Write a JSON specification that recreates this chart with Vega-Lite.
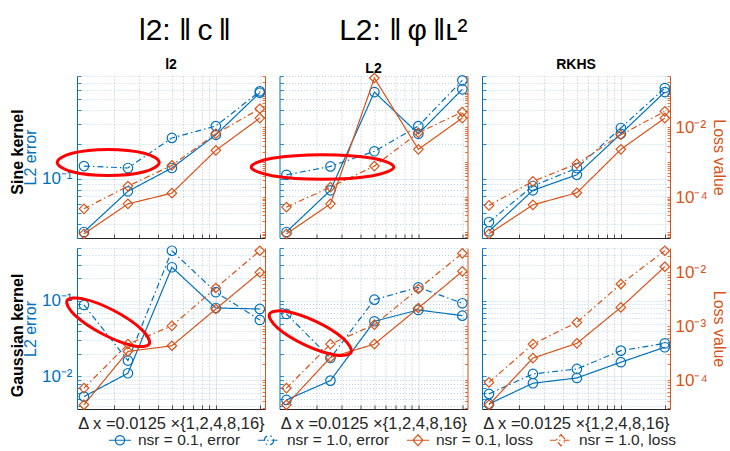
{
"$schema":"https://vega.github.io/schema/vega-lite/v6.json",
"padding":{"left":10,"top":16,"right":2,"bottom":2},
"title":{"text":"l2: ‖\u2009c\u2009‖\u00a0\u00a0\u00a0\u00a0\u00a0\u00a0\u00a0\u00a0\u00a0\u00a0\u00a0\u00a0\u00a0L2: ‖\u2009φ\u2009‖ʟ²","anchor":"start","frame":"group","fontSize":30,"fontWeight":"normal","font":"Liberation Sans","color":"#000000","dx":62,"offset":12},
"datasets":{
"d":[
{"k":"S","m":"l2","s":"nsr = 0.1, error","dx":0.0125,"v":0.0339},{"k":"S","m":"l2","s":"nsr = 0.1, error","dx":0.025,"v":0.0773},{"k":"S","m":"l2","s":"nsr = 0.1, error","dx":0.05,"v":0.124},{"k":"S","m":"l2","s":"nsr = 0.1, error","dx":0.1,"v":0.243},{"k":"S","m":"l2","s":"nsr = 0.1, error","dx":0.2,"v":0.57},
{"k":"S","m":"l2","s":"nsr = 1.0, error","dx":0.0125,"v":0.129},{"k":"S","m":"l2","s":"nsr = 1.0, error","dx":0.025,"v":0.124},{"k":"S","m":"l2","s":"nsr = 1.0, error","dx":0.05,"v":0.228},{"k":"S","m":"l2","s":"nsr = 1.0, error","dx":0.1,"v":0.29},{"k":"S","m":"l2","s":"nsr = 1.0, error","dx":0.2,"v":0.586},
{"k":"S","m":"l2","s":"nsr = 0.1, loss","dx":0.0125,"v":0.0000088},{"k":"S","m":"l2","s":"nsr = 0.1, loss","dx":0.025,"v":0.000064},{"k":"S","m":"l2","s":"nsr = 0.1, loss","dx":0.05,"v":0.00013},{"k":"S","m":"l2","s":"nsr = 0.1, loss","dx":0.1,"v":0.0022},{"k":"S","m":"l2","s":"nsr = 0.1, loss","dx":0.2,"v":0.0186},
{"k":"S","m":"l2","s":"nsr = 1.0, loss","dx":0.0125,"v":0.0000461},{"k":"S","m":"l2","s":"nsr = 1.0, loss","dx":0.025,"v":0.000207},{"k":"S","m":"l2","s":"nsr = 1.0, loss","dx":0.05,"v":0.000815},{"k":"S","m":"l2","s":"nsr = 1.0, loss","dx":0.1,"v":0.00659},{"k":"S","m":"l2","s":"nsr = 1.0, loss","dx":0.2,"v":0.0344},
{"k":"S","m":"L2","s":"nsr = 0.1, error","dx":0.0125,"v":0.0339},{"k":"S","m":"L2","s":"nsr = 0.1, error","dx":0.025,"v":0.0789},{"k":"S","m":"L2","s":"nsr = 0.1, error","dx":0.05,"v":0.578},{"k":"S","m":"L2","s":"nsr = 0.1, error","dx":0.1,"v":0.248},{"k":"S","m":"L2","s":"nsr = 0.1, error","dx":0.2,"v":0.611},
{"k":"S","m":"L2","s":"nsr = 1.0, error","dx":0.0125,"v":0.108},{"k":"S","m":"L2","s":"nsr = 1.0, error","dx":0.025,"v":0.128},{"k":"S","m":"L2","s":"nsr = 1.0, error","dx":0.05,"v":0.174},{"k":"S","m":"L2","s":"nsr = 1.0, error","dx":0.1,"v":0.29},{"k":"S","m":"L2","s":"nsr = 1.0, error","dx":0.2,"v":0.733},
{"k":"S","m":"L2","s":"nsr = 0.1, loss","dx":0.0125,"v":0.0000088},{"k":"S","m":"L2","s":"nsr = 0.1, loss","dx":0.025,"v":0.000064},{"k":"S","m":"L2","s":"nsr = 0.1, loss","dx":0.05,"v":0.263},{"k":"S","m":"L2","s":"nsr = 0.1, loss","dx":0.1,"v":0.00235},{"k":"S","m":"L2","s":"nsr = 0.1, loss","dx":0.2,"v":0.0186},
{"k":"S","m":"L2","s":"nsr = 1.0, loss","dx":0.0125,"v":0.0000516},{"k":"S","m":"L2","s":"nsr = 1.0, loss","dx":0.025,"v":0.000194},{"k":"S","m":"L2","s":"nsr = 1.0, loss","dx":0.05,"v":0.000778},{"k":"S","m":"L2","s":"nsr = 1.0, loss","dx":0.1,"v":0.00705},{"k":"S","m":"L2","s":"nsr = 1.0, loss","dx":0.2,"v":0.0277},
{"k":"S","m":"RKHS","s":"nsr = 0.1, error","dx":0.0125,"v":0.0344},{"k":"S","m":"RKHS","s":"nsr = 0.1, error","dx":0.025,"v":0.0789},{"k":"S","m":"RKHS","s":"nsr = 0.1, error","dx":0.05,"v":0.108},{"k":"S","m":"RKHS","s":"nsr = 0.1, error","dx":0.1,"v":0.248},{"k":"S","m":"RKHS","s":"nsr = 0.1, error","dx":0.2,"v":0.578},
{"k":"S","m":"RKHS","s":"nsr = 1.0, error","dx":0.0125,"v":0.0415},{"k":"S","m":"RKHS","s":"nsr = 1.0, error","dx":0.025,"v":0.0861},{"k":"S","m":"RKHS","s":"nsr = 1.0, error","dx":0.05,"v":0.124},{"k":"S","m":"RKHS","s":"nsr = 1.0, error","dx":0.1,"v":0.279},{"k":"S","m":"RKHS","s":"nsr = 1.0, error","dx":0.2,"v":0.627},
{"k":"S","m":"RKHS","s":"nsr = 0.1, loss","dx":0.0125,"v":0.0000088},{"k":"S","m":"RKHS","s":"nsr = 0.1, loss","dx":0.025,"v":0.00006},{"k":"S","m":"RKHS","s":"nsr = 0.1, loss","dx":0.05,"v":0.000133},{"k":"S","m":"RKHS","s":"nsr = 0.1, loss","dx":0.1,"v":0.00235},{"k":"S","m":"RKHS","s":"nsr = 0.1, loss","dx":0.2,"v":0.0186},
{"k":"S","m":"RKHS","s":"nsr = 1.0, loss","dx":0.0125,"v":0.0000577},{"k":"S","m":"RKHS","s":"nsr = 1.0, loss","dx":0.025,"v":0.000283},{"k":"S","m":"RKHS","s":"nsr = 1.0, loss","dx":0.05,"v":0.000906},{"k":"S","m":"RKHS","s":"nsr = 1.0, loss","dx":0.1,"v":0.00617},{"k":"S","m":"RKHS","s":"nsr = 1.0, loss","dx":0.2,"v":0.029},
{"k":"G","m":"l2","s":"nsr = 0.1, error","dx":0.0125,"v":0.0054},{"k":"G","m":"l2","s":"nsr = 0.1, error","dx":0.025,"v":0.011},{"k":"G","m":"l2","s":"nsr = 0.1, error","dx":0.05,"v":0.278},{"k":"G","m":"l2","s":"nsr = 0.1, error","dx":0.1,"v":0.0804},{"k":"G","m":"l2","s":"nsr = 0.1, error","dx":0.2,"v":0.078},
{"k":"G","m":"l2","s":"nsr = 1.0, error","dx":0.0125,"v":0.0881},{"k":"G","m":"l2","s":"nsr = 1.0, error","dx":0.025,"v":0.0162},{"k":"G","m":"l2","s":"nsr = 1.0, error","dx":0.05,"v":0.46},{"k":"G","m":"l2","s":"nsr = 1.0, error","dx":0.1,"v":0.13},{"k":"G","m":"l2","s":"nsr = 1.0, error","dx":0.2,"v":0.0558},
{"k":"G","m":"l2","s":"nsr = 0.1, loss","dx":0.0125,"v":0.0000347},{"k":"G","m":"l2","s":"nsr = 0.1, loss","dx":0.025,"v":0.000339},{"k":"G","m":"l2","s":"nsr = 0.1, loss","dx":0.05,"v":0.000431},{"k":"G","m":"l2","s":"nsr = 0.1, loss","dx":0.1,"v":0.00207},{"k":"G","m":"l2","s":"nsr = 0.1, loss","dx":0.2,"v":0.0099},
{"k":"G","m":"l2","s":"nsr = 1.0, loss","dx":0.0125,"v":0.0000708},{"k":"G","m":"l2","s":"nsr = 1.0, loss","dx":0.025,"v":0.000463},{"k":"G","m":"l2","s":"nsr = 1.0, loss","dx":0.05,"v":0.00101},{"k":"G","m":"l2","s":"nsr = 1.0, loss","dx":0.1,"v":0.00507},{"k":"G","m":"l2","s":"nsr = 1.0, loss","dx":0.2,"v":0.0249},
{"k":"G","m":"L2","s":"nsr = 0.1, error","dx":0.0125,"v":0.00488},{"k":"G","m":"L2","s":"nsr = 0.1, error","dx":0.025,"v":0.00879},{"k":"G","m":"L2","s":"nsr = 0.1, error","dx":0.05,"v":0.0536},{"k":"G","m":"L2","s":"nsr = 0.1, error","dx":0.1,"v":0.0757},{"k":"G","m":"L2","s":"nsr = 0.1, error","dx":0.2,"v":0.0636},
{"k":"G","m":"L2","s":"nsr = 1.0, error","dx":0.0125,"v":0.067},{"k":"G","m":"L2","s":"nsr = 1.0, error","dx":0.025,"v":0.0175},{"k":"G","m":"L2","s":"nsr = 1.0, error","dx":0.05,"v":0.1035},{"k":"G","m":"L2","s":"nsr = 1.0, error","dx":0.1,"v":0.151},{"k":"G","m":"L2","s":"nsr = 1.0, error","dx":0.2,"v":0.0929},
{"k":"G","m":"L2","s":"nsr = 0.1, loss","dx":0.0125,"v":0.0000347},{"k":"G","m":"L2","s":"nsr = 0.1, loss","dx":0.025,"v":0.000262},{"k":"G","m":"L2","s":"nsr = 0.1, loss","dx":0.05,"v":0.000463},{"k":"G","m":"L2","s":"nsr = 0.1, loss","dx":0.1,"v":0.00216},{"k":"G","m":"L2","s":"nsr = 0.1, loss","dx":0.2,"v":0.01035},
{"k":"G","m":"L2","s":"nsr = 1.0, loss","dx":0.0125,"v":0.0000708},{"k":"G","m":"L2","s":"nsr = 1.0, loss","dx":0.025,"v":0.000463},{"k":"G","m":"L2","s":"nsr = 1.0, loss","dx":0.05,"v":0.00106},{"k":"G","m":"L2","s":"nsr = 1.0, loss","dx":0.1,"v":0.00486},{"k":"G","m":"L2","s":"nsr = 1.0, loss","dx":0.2,"v":0.0223},
{"k":"G","m":"RKHS","s":"nsr = 0.1, error","dx":0.0125,"v":0.00432},{"k":"G","m":"RKHS","s":"nsr = 0.1, error","dx":0.025,"v":0.00811},{"k":"G","m":"RKHS","s":"nsr = 0.1, error","dx":0.05,"v":0.00953},{"k":"G","m":"RKHS","s":"nsr = 0.1, error","dx":0.1,"v":0.0154},{"k":"G","m":"RKHS","s":"nsr = 0.1, error","dx":0.2,"v":0.0243},
{"k":"G","m":"RKHS","s":"nsr = 1.0, error","dx":0.0125,"v":0.00586},{"k":"G","m":"RKHS","s":"nsr = 1.0, error","dx":0.025,"v":0.01077},{"k":"G","m":"RKHS","s":"nsr = 1.0, error","dx":0.05,"v":0.01254},{"k":"G","m":"RKHS","s":"nsr = 1.0, error","dx":0.1,"v":0.0219},{"k":"G","m":"RKHS","s":"nsr = 1.0, error","dx":0.2,"v":0.0274},
{"k":"G","m":"RKHS","s":"nsr = 0.1, loss","dx":0.0125,"v":0.0000347},{"k":"G","m":"RKHS","s":"nsr = 0.1, loss","dx":0.025,"v":0.000255},{"k":"G","m":"RKHS","s":"nsr = 0.1, loss","dx":0.05,"v":0.000478},{"k":"G","m":"RKHS","s":"nsr = 0.1, loss","dx":0.1,"v":0.00222},{"k":"G","m":"RKHS","s":"nsr = 0.1, loss","dx":0.2,"v":0.01259},
{"k":"G","m":"RKHS","s":"nsr = 1.0, loss","dx":0.0125,"v":0.0000902},{"k":"G","m":"RKHS","s":"nsr = 1.0, loss","dx":0.025,"v":0.000463},{"k":"G","m":"RKHS","s":"nsr = 1.0, loss","dx":0.05,"v":0.00117},{"k":"G","m":"RKHS","s":"nsr = 1.0, loss","dx":0.1,"v":0.00601},{"k":"G","m":"RKHS","s":"nsr = 1.0, loss","dx":0.2,"v":0.0249}
],
"ell":[
{"k":"S","m":"l2","i":0,"dx":0.04094,"v":0.1385},{"k":"S","m":"l2","i":1,"dx":0.03234,"v":0.167},{"k":"S","m":"l2","i":2,"dx":0.018316,"v":0.1804},{"k":"S","m":"l2","i":3,"dx":0.010374,"v":0.167},{"k":"S","m":"l2","i":4,"dx":0.008197,"v":0.1385},{"k":"S","m":"l2","i":5,"dx":0.010374,"v":0.115},{"k":"S","m":"l2","i":6,"dx":0.018316,"v":0.1065},{"k":"S","m":"l2","i":7,"dx":0.03234,"v":0.115},
{"k":"S","m":"L2","i":0,"dx":0.0679,"v":0.1265},{"k":"S","m":"L2","i":1,"dx":0.04885,"v":0.1509},{"k":"S","m":"L2","i":2,"dx":0.02206,"v":0.1623},{"k":"S","m":"L2","i":3,"dx":0.009963,"v":0.1509},{"k":"S","m":"L2","i":4,"dx":0.007169,"v":0.1265},{"k":"S","m":"L2","i":5,"dx":0.009963,"v":0.106},{"k":"S","m":"L2","i":6,"dx":0.02206,"v":0.0986},{"k":"S","m":"L2","i":7,"dx":0.04885,"v":0.106},
{"k":"G","m":"l2","i":0,"dx":0.035054,"v":0.02694},{"k":"G","m":"l2","i":1,"dx":0.027097,"v":0.02549},{"k":"G","m":"l2","i":2,"dx":0.016652,"v":0.03664},{"k":"G","m":"l2","i":3,"dx":0.010822,"v":0.06464},{"k":"G","m":"l2","i":4,"dx":0.009571,"v":0.10046},{"k":"G","m":"l2","i":5,"dx":0.012381,"v":0.10617},{"k":"G","m":"l2","i":6,"dx":0.020148,"v":0.07385},{"k":"G","m":"l2","i":7,"dx":0.031004,"v":0.04184},
{"k":"G","m":"L2","i":0,"dx":0.034654,"v":0.02084},{"k":"G","m":"L2","i":1,"dx":0.026986,"v":0.01919},{"k":"G","m":"L2","i":2,"dx":0.016687,"v":0.02608},{"k":"G","m":"L2","i":3,"dx":0.010856,"v":0.04375},{"k":"G","m":"L2","i":4,"dx":0.00956,"v":0.06684},{"k":"G","m":"L2","i":5,"dx":0.012276,"v":0.07261},{"k":"G","m":"L2","i":6,"dx":0.019854,"v":0.05341},{"k":"G","m":"L2","i":7,"dx":0.030518,"v":0.03185}
]
},
"spacing":-7,
"vconcat":[
{"hconcat":[
{"width":188,"height":162,"title":{"text":"l2"},
"layer":[
{"data":{"name":"d"},"transform":[{"filter":"datum.k=='S'&&datum.m=='l2'&&indexof(datum.s,'error')>=0"}],
"encoding":{
"x":{"field":"dx","type":"quantitative","scale":{"type":"log","domain":[0.0112,0.217],"nice":false},"axis":{"values":[0.02,0.03,0.04,0.05,0.06,0.07,0.08,0.09,0.1,0.2],"labels":false,"title":null,"grid":true,"gridColor":"#262626","gridOpacity":{"condition":{"test":"datum.value==0.1","value":0.15},"value":0.35},"gridDash":{"condition":{"test":"datum.value==0.1","value":[]},"value":[1,2]}}},
"y":{"field":"v","type":"quantitative","scale":{"type":"log","domain":[0.03,0.8],"nice":false},"axis":{"orient":"left","values":[0.03,0.04,0.05,0.06,0.07,0.08,0.09,0.1,0.2,0.3,0.4,0.5,0.6,0.7,0.8],"labelExpr":"datum.value==0.1?'10⁻¹':''","title":"L2 error","grid":true,"gridColor":"#0072BD","gridOpacity":{"condition":{"test":"datum.value==0.1","value":0.15},"value":0.35},"gridDash":{"condition":{"test":"datum.value==0.1","value":[]},"value":[1,2]}}},
"color":{"field":"s","type":"nominal","scale":{"domain":["nsr = 0.1, error","nsr = 1.0, error","nsr = 0.1, loss","nsr = 1.0, loss"],"range":["#0072BD","#0072BD","#D95319","#D95319"]},"legend":{"title":null}}},
"layer":[
{"mark":{"type":"line","strokeWidth":1.2},"encoding":{"strokeDash":{"field":"s","type":"nominal","scale":{"domain":["nsr = 0.1, error","nsr = 1.0, error","nsr = 0.1, loss","nsr = 1.0, loss"],"range":[[1,0],[6,3,1.5,3],[1,0],[6,3,1.5,3]]},"legend":{"title":null}}}},
{"mark":{"type":"point","filled":false,"size":90,"strokeWidth":1.2,"opacity":1},"encoding":{"shape":{"condition":{"test":"indexof(datum.s,'error')>=0","value":"circle"},"value":"diamond"}}},
{"transform":[{"filter":"false"}],"mark":{"type":"point","filled":false,"strokeWidth":1.2},"encoding":{"shape":{"field":"s","type":"nominal","scale":{"domain":["nsr = 0.1, error","nsr = 1.0, error","nsr = 0.1, loss","nsr = 1.0, loss"],"range":["M-1,0L1,0M0.42,0A0.42,0.42,0,1,1,-0.42,0A0.42,0.42,0,1,1,0.42,0","M-1,0L1,0M0.42,0A0.42,0.42,0,1,1,-0.42,0A0.42,0.42,0,1,1,0.42,0","M-1,0L1,0M0,-0.5L0.45,0L0,0.5L-0.45,0Z","M-1,0L1,0M0,-0.5L0.45,0L0,0.5L-0.45,0Z"]},"legend":{"title":null}}}}
]},
{"data":{"name":"d"},"transform":[{"filter":"datum.k=='S'&&datum.m=='l2'&&indexof(datum.s,'loss')>=0"}],
"encoding":{
"x":{"field":"dx","type":"quantitative","scale":{"type":"log","domain":[0.0112,0.217],"nice":false},"axis":{"values":[0.02,0.03,0.04,0.05,0.06,0.07,0.08,0.09,0.1,0.2],"labels":false,"title":null,"grid":true,"gridColor":"#262626","gridOpacity":{"condition":{"test":"datum.value==0.1","value":0.15},"value":0.35},"gridDash":{"condition":{"test":"datum.value==0.1","value":[]},"value":[1,2]}}},
"y":{"field":"v","type":"quantitative","scale":{"type":"log","domain":[0.0000067,0.3],"nice":false},"axis":{"orient":"right","values":[0.000007,0.000008,0.000009,0.00001,0.00002,0.00003,0.00004,0.00005,0.00006,0.00007,0.00008,0.00009,0.0001,0.0002,0.0003,0.0004,0.0005,0.0006,0.0007,0.0008,0.0009,0.001,0.002,0.003,0.004,0.005,0.006,0.007,0.008,0.009,0.01,0.02,0.03,0.04,0.05,0.06,0.07,0.08,0.09,0.1,0.2,0.3],"labels":false,"title":null,"grid":false}},
"color":{"field":"s","type":"nominal","scale":{"domain":["nsr = 0.1, error","nsr = 1.0, error","nsr = 0.1, loss","nsr = 1.0, loss"],"range":["#0072BD","#0072BD","#D95319","#D95319"]},"legend":{"title":null}}},
"layer":[
{"mark":{"type":"line","strokeWidth":1.2},"encoding":{"strokeDash":{"field":"s","type":"nominal","scale":{"domain":["nsr = 0.1, error","nsr = 1.0, error","nsr = 0.1, loss","nsr = 1.0, loss"],"range":[[1,0],[6,3,1.5,3],[1,0],[6,3,1.5,3]]},"legend":{"title":null}}}},
{"mark":{"type":"point","filled":false,"size":90,"strokeWidth":1.2,"opacity":1},"encoding":{"shape":{"condition":{"test":"indexof(datum.s,'error')>=0","value":"circle"},"value":"diamond"}}}
]},
{"data":{"name":"ell"},"transform":[{"filter":"datum.k=='S'&&datum.m=='l2'"}],
"mark":{"type":"line","interpolate":"cardinal-closed","color":"#FF0000","strokeWidth":3},
"encoding":{
"x":{"field":"dx","type":"quantitative","scale":{"type":"log","domain":[0.0112,0.217],"nice":false},"axis":{"values":[0.02,0.03,0.04,0.05,0.06,0.07,0.08,0.09,0.1,0.2],"labels":false,"title":null,"grid":true,"gridColor":"#262626","gridOpacity":{"condition":{"test":"datum.value==0.1","value":0.15},"value":0.35},"gridDash":{"condition":{"test":"datum.value==0.1","value":[]},"value":[1,2]}}},
"y":{"field":"v","type":"quantitative","scale":{"type":"log","domain":[0.03,0.8],"nice":false},"axis":null},
"order":{"field":"i","type":"quantitative"}}}
],
"resolve":{"scale":{"y":"independent"}}},

{"width":188,"height":162,"title":{"text":"L2"},
"layer":[
{"data":{"name":"d"},"transform":[{"filter":"datum.k=='S'&&datum.m=='L2'&&indexof(datum.s,'error')>=0"}],
"encoding":{
"x":{"field":"dx","type":"quantitative","scale":{"type":"log","domain":[0.0112,0.217],"nice":false},"axis":{"values":[0.02,0.03,0.04,0.05,0.06,0.07,0.08,0.09,0.1,0.2],"labels":false,"title":null,"grid":true,"gridColor":"#262626","gridOpacity":{"condition":{"test":"datum.value==0.1","value":0.15},"value":0.35},"gridDash":{"condition":{"test":"datum.value==0.1","value":[]},"value":[1,2]}}},
"y":{"field":"v","type":"quantitative","scale":{"type":"log","domain":[0.03,0.8],"nice":false},"axis":{"orient":"left","values":[0.03,0.04,0.05,0.06,0.07,0.08,0.09,0.1,0.2,0.3,0.4,0.5,0.6,0.7,0.8],"labels":false,"title":null,"grid":true,"gridColor":"#0072BD","gridOpacity":{"condition":{"test":"datum.value==0.1","value":0.15},"value":0.35},"gridDash":{"condition":{"test":"datum.value==0.1","value":[]},"value":[1,2]}}},
"color":{"field":"s","type":"nominal","scale":{"domain":["nsr = 0.1, error","nsr = 1.0, error","nsr = 0.1, loss","nsr = 1.0, loss"],"range":["#0072BD","#0072BD","#D95319","#D95319"]},"legend":{"title":null}}},
"layer":[
{"mark":{"type":"line","strokeWidth":1.2},"encoding":{"strokeDash":{"field":"s","type":"nominal","scale":{"domain":["nsr = 0.1, error","nsr = 1.0, error","nsr = 0.1, loss","nsr = 1.0, loss"],"range":[[1,0],[6,3,1.5,3],[1,0],[6,3,1.5,3]]},"legend":{"title":null}}}},
{"mark":{"type":"point","filled":false,"size":90,"strokeWidth":1.2,"opacity":1},"encoding":{"shape":{"condition":{"test":"indexof(datum.s,'error')>=0","value":"circle"},"value":"diamond"}}}
]},
{"data":{"name":"d"},"transform":[{"filter":"datum.k=='S'&&datum.m=='L2'&&indexof(datum.s,'loss')>=0"}],
"encoding":{
"x":{"field":"dx","type":"quantitative","scale":{"type":"log","domain":[0.0112,0.217],"nice":false},"axis":{"values":[0.02,0.03,0.04,0.05,0.06,0.07,0.08,0.09,0.1,0.2],"labels":false,"title":null,"grid":true,"gridColor":"#262626","gridOpacity":{"condition":{"test":"datum.value==0.1","value":0.15},"value":0.35},"gridDash":{"condition":{"test":"datum.value==0.1","value":[]},"value":[1,2]}}},
"y":{"field":"v","type":"quantitative","scale":{"type":"log","domain":[0.0000067,0.3],"nice":false},"axis":{"orient":"right","values":[0.000007,0.000008,0.000009,0.00001,0.00002,0.00003,0.00004,0.00005,0.00006,0.00007,0.00008,0.00009,0.0001,0.0002,0.0003,0.0004,0.0005,0.0006,0.0007,0.0008,0.0009,0.001,0.002,0.003,0.004,0.005,0.006,0.007,0.008,0.009,0.01,0.02,0.03,0.04,0.05,0.06,0.07,0.08,0.09,0.1,0.2,0.3],"labels":false,"title":null,"grid":false}},
"color":{"field":"s","type":"nominal","scale":{"domain":["nsr = 0.1, error","nsr = 1.0, error","nsr = 0.1, loss","nsr = 1.0, loss"],"range":["#0072BD","#0072BD","#D95319","#D95319"]},"legend":{"title":null}}},
"layer":[
{"mark":{"type":"line","strokeWidth":1.2},"encoding":{"strokeDash":{"field":"s","type":"nominal","scale":{"domain":["nsr = 0.1, error","nsr = 1.0, error","nsr = 0.1, loss","nsr = 1.0, loss"],"range":[[1,0],[6,3,1.5,3],[1,0],[6,3,1.5,3]]},"legend":{"title":null}}}},
{"mark":{"type":"point","filled":false,"size":90,"strokeWidth":1.2,"opacity":1},"encoding":{"shape":{"condition":{"test":"indexof(datum.s,'error')>=0","value":"circle"},"value":"diamond"}}}
]},
{"data":{"name":"ell"},"transform":[{"filter":"datum.k=='S'&&datum.m=='L2'"}],
"mark":{"type":"line","interpolate":"cardinal-closed","color":"#FF0000","strokeWidth":3},
"encoding":{
"x":{"field":"dx","type":"quantitative","scale":{"type":"log","domain":[0.0112,0.217],"nice":false},"axis":{"values":[0.02,0.03,0.04,0.05,0.06,0.07,0.08,0.09,0.1,0.2],"labels":false,"title":null,"grid":true,"gridColor":"#262626","gridOpacity":{"condition":{"test":"datum.value==0.1","value":0.15},"value":0.35},"gridDash":{"condition":{"test":"datum.value==0.1","value":[]},"value":[1,2]}}},
"y":{"field":"v","type":"quantitative","scale":{"type":"log","domain":[0.03,0.8],"nice":false},"axis":null},
"order":{"field":"i","type":"quantitative"}}}
],
"resolve":{"scale":{"y":"independent"}}},

{"width":188,"height":162,"title":{"text":"RKHS"},
"layer":[
{"data":{"name":"d"},"transform":[{"filter":"datum.k=='S'&&datum.m=='RKHS'&&indexof(datum.s,'error')>=0"}],
"encoding":{
"x":{"field":"dx","type":"quantitative","scale":{"type":"log","domain":[0.0112,0.217],"nice":false},"axis":{"values":[0.02,0.03,0.04,0.05,0.06,0.07,0.08,0.09,0.1,0.2],"labels":false,"title":null,"grid":true,"gridColor":"#262626","gridOpacity":{"condition":{"test":"datum.value==0.1","value":0.15},"value":0.35},"gridDash":{"condition":{"test":"datum.value==0.1","value":[]},"value":[1,2]}}},
"y":{"field":"v","type":"quantitative","scale":{"type":"log","domain":[0.03,0.8],"nice":false},"axis":{"orient":"left","values":[0.03,0.04,0.05,0.06,0.07,0.08,0.09,0.1,0.2,0.3,0.4,0.5,0.6,0.7,0.8],"labels":false,"title":null,"grid":true,"gridColor":"#0072BD","gridOpacity":{"condition":{"test":"datum.value==0.1","value":0.15},"value":0.35},"gridDash":{"condition":{"test":"datum.value==0.1","value":[]},"value":[1,2]}}},
"color":{"field":"s","type":"nominal","scale":{"domain":["nsr = 0.1, error","nsr = 1.0, error","nsr = 0.1, loss","nsr = 1.0, loss"],"range":["#0072BD","#0072BD","#D95319","#D95319"]},"legend":{"title":null}}},
"layer":[
{"mark":{"type":"line","strokeWidth":1.2},"encoding":{"strokeDash":{"field":"s","type":"nominal","scale":{"domain":["nsr = 0.1, error","nsr = 1.0, error","nsr = 0.1, loss","nsr = 1.0, loss"],"range":[[1,0],[6,3,1.5,3],[1,0],[6,3,1.5,3]]},"legend":{"title":null}}}},
{"mark":{"type":"point","filled":false,"size":90,"strokeWidth":1.2,"opacity":1},"encoding":{"shape":{"condition":{"test":"indexof(datum.s,'error')>=0","value":"circle"},"value":"diamond"}}}
]},
{"data":{"name":"d"},"transform":[{"filter":"datum.k=='S'&&datum.m=='RKHS'&&indexof(datum.s,'loss')>=0"}],
"encoding":{
"x":{"field":"dx","type":"quantitative","scale":{"type":"log","domain":[0.0112,0.217],"nice":false},"axis":{"values":[0.02,0.03,0.04,0.05,0.06,0.07,0.08,0.09,0.1,0.2],"labels":false,"title":null,"grid":true,"gridColor":"#262626","gridOpacity":{"condition":{"test":"datum.value==0.1","value":0.15},"value":0.35},"gridDash":{"condition":{"test":"datum.value==0.1","value":[]},"value":[1,2]}}},
"y":{"field":"v","type":"quantitative","scale":{"type":"log","domain":[0.0000067,0.3],"nice":false},"axis":{"orient":"right","values":[0.000007,0.000008,0.000009,0.00001,0.00002,0.00003,0.00004,0.00005,0.00006,0.00007,0.00008,0.00009,0.0001,0.0002,0.0003,0.0004,0.0005,0.0006,0.0007,0.0008,0.0009,0.001,0.002,0.003,0.004,0.005,0.006,0.007,0.008,0.009,0.01,0.02,0.03,0.04,0.05,0.06,0.07,0.08,0.09,0.1,0.2,0.3],"labelExpr":"datum.value==0.0001?'10⁻⁴':datum.value==0.01?'10⁻²':''","title":"Loss value","grid":false}},
"color":{"field":"s","type":"nominal","scale":{"domain":["nsr = 0.1, error","nsr = 1.0, error","nsr = 0.1, loss","nsr = 1.0, loss"],"range":["#0072BD","#0072BD","#D95319","#D95319"]},"legend":{"title":null}}},
"layer":[
{"mark":{"type":"line","strokeWidth":1.2},"encoding":{"strokeDash":{"field":"s","type":"nominal","scale":{"domain":["nsr = 0.1, error","nsr = 1.0, error","nsr = 0.1, loss","nsr = 1.0, loss"],"range":[[1,0],[6,3,1.5,3],[1,0],[6,3,1.5,3]]},"legend":{"title":null}}}},
{"mark":{"type":"point","filled":false,"size":90,"strokeWidth":1.2,"opacity":1},"encoding":{"shape":{"condition":{"test":"indexof(datum.s,'error')>=0","value":"circle"},"value":"diamond"}}}
]}
],
"resolve":{"scale":{"y":"independent"}}}
],
"spacing":14.5,"bounds":"flush",
"title":{"text":"Sine kernel","orient":"left","anchor":"middle","fontSize":16,"fontWeight":"bold","color":"#000000","offset":-4}},

{"hconcat":[
{"width":188,"height":161,
"layer":[
{"data":{"name":"d"},"transform":[{"filter":"datum.k=='G'&&datum.m=='l2'&&indexof(datum.s,'error')>=0"}],
"encoding":{
"x":{"field":"dx","type":"quantitative","scale":{"type":"log","domain":[0.0112,0.217],"nice":false},"axis":{"values":[0.02,0.03,0.04,0.05,0.06,0.07,0.08,0.09,0.1,0.2],"labels":false,"title":"Δ x =0.0125 ×{1,2,4,8,16}","grid":true,"gridColor":"#262626","gridOpacity":{"condition":{"test":"datum.value==0.1","value":0.15},"value":0.35},"gridDash":{"condition":{"test":"datum.value==0.1","value":[]},"value":[1,2]}}},
"y":{"field":"v","type":"quantitative","scale":{"type":"log","domain":[0.0037,0.5],"nice":false},"axis":{"orient":"left","values":[0.004,0.005,0.006,0.007,0.008,0.009,0.01,0.02,0.03,0.04,0.05,0.06,0.07,0.08,0.09,0.1,0.2,0.3,0.4,0.5],"labelExpr":"datum.value==0.1?'10⁻¹':datum.value==0.01?'10⁻²':''","title":"L2 error","grid":true,"gridColor":"#0072BD","gridOpacity":{"condition":{"test":"datum.value==0.1||datum.value==0.01","value":0.15},"value":0.35},"gridDash":{"condition":{"test":"datum.value==0.1||datum.value==0.01","value":[]},"value":[1,2]}}},
"color":{"field":"s","type":"nominal","scale":{"domain":["nsr = 0.1, error","nsr = 1.0, error","nsr = 0.1, loss","nsr = 1.0, loss"],"range":["#0072BD","#0072BD","#D95319","#D95319"]},"legend":{"title":null}}},
"layer":[
{"mark":{"type":"line","strokeWidth":1.2},"encoding":{"strokeDash":{"field":"s","type":"nominal","scale":{"domain":["nsr = 0.1, error","nsr = 1.0, error","nsr = 0.1, loss","nsr = 1.0, loss"],"range":[[1,0],[6,3,1.5,3],[1,0],[6,3,1.5,3]]},"legend":{"title":null}}}},
{"mark":{"type":"point","filled":false,"size":90,"strokeWidth":1.2,"opacity":1},"encoding":{"shape":{"condition":{"test":"indexof(datum.s,'error')>=0","value":"circle"},"value":"diamond"}}}
]},
{"data":{"name":"d"},"transform":[{"filter":"datum.k=='G'&&datum.m=='l2'&&indexof(datum.s,'loss')>=0"}],
"encoding":{
"x":{"field":"dx","type":"quantitative","scale":{"type":"log","domain":[0.0112,0.217],"nice":false},"axis":{"values":[0.02,0.03,0.04,0.05,0.06,0.07,0.08,0.09,0.1,0.2],"labels":false,"title":"Δ x =0.0125 ×{1,2,4,8,16}","grid":true,"gridColor":"#262626","gridOpacity":{"condition":{"test":"datum.value==0.1","value":0.15},"value":0.35},"gridDash":{"condition":{"test":"datum.value==0.1","value":[]},"value":[1,2]}}},
"y":{"field":"v","type":"quantitative","scale":{"type":"log","domain":[0.000029,0.028],"nice":false},"axis":{"orient":"right","values":[0.00003,0.00004,0.00005,0.00006,0.00007,0.00008,0.00009,0.0001,0.0002,0.0003,0.0004,0.0005,0.0006,0.0007,0.0008,0.0009,0.001,0.002,0.003,0.004,0.005,0.006,0.007,0.008,0.009,0.01,0.02],"labels":false,"title":null,"grid":false}},
"color":{"field":"s","type":"nominal","scale":{"domain":["nsr = 0.1, error","nsr = 1.0, error","nsr = 0.1, loss","nsr = 1.0, loss"],"range":["#0072BD","#0072BD","#D95319","#D95319"]},"legend":{"title":null}}},
"layer":[
{"mark":{"type":"line","strokeWidth":1.2},"encoding":{"strokeDash":{"field":"s","type":"nominal","scale":{"domain":["nsr = 0.1, error","nsr = 1.0, error","nsr = 0.1, loss","nsr = 1.0, loss"],"range":[[1,0],[6,3,1.5,3],[1,0],[6,3,1.5,3]]},"legend":{"title":null}}}},
{"mark":{"type":"point","filled":false,"size":90,"strokeWidth":1.2,"opacity":1},"encoding":{"shape":{"condition":{"test":"indexof(datum.s,'error')>=0","value":"circle"},"value":"diamond"}}}
]},
{"data":{"name":"ell"},"transform":[{"filter":"datum.k=='G'&&datum.m=='l2'"}],
"mark":{"type":"line","interpolate":"cardinal-closed","color":"#FF0000","strokeWidth":3},
"encoding":{
"x":{"field":"dx","type":"quantitative","scale":{"type":"log","domain":[0.0112,0.217],"nice":false},"axis":{"values":[0.02,0.03,0.04,0.05,0.06,0.07,0.08,0.09,0.1,0.2],"labels":false,"title":"Δ x =0.0125 ×{1,2,4,8,16}","grid":true,"gridColor":"#262626","gridOpacity":{"condition":{"test":"datum.value==0.1","value":0.15},"value":0.35},"gridDash":{"condition":{"test":"datum.value==0.1","value":[]},"value":[1,2]}}},
"y":{"field":"v","type":"quantitative","scale":{"type":"log","domain":[0.0037,0.5],"nice":false},"axis":null},
"order":{"field":"i","type":"quantitative"}}}
],
"resolve":{"scale":{"y":"independent"}}},

{"width":188,"height":161,
"layer":[
{"data":{"name":"d"},"transform":[{"filter":"datum.k=='G'&&datum.m=='L2'&&indexof(datum.s,'error')>=0"}],
"encoding":{
"x":{"field":"dx","type":"quantitative","scale":{"type":"log","domain":[0.0112,0.217],"nice":false},"axis":{"values":[0.02,0.03,0.04,0.05,0.06,0.07,0.08,0.09,0.1,0.2],"labels":false,"title":"Δ x =0.0125 ×{1,2,4,8,16}","grid":true,"gridColor":"#262626","gridOpacity":{"condition":{"test":"datum.value==0.1","value":0.15},"value":0.35},"gridDash":{"condition":{"test":"datum.value==0.1","value":[]},"value":[1,2]}}},
"y":{"field":"v","type":"quantitative","scale":{"type":"log","domain":[0.0037,0.5],"nice":false},"axis":{"orient":"left","values":[0.004,0.005,0.006,0.007,0.008,0.009,0.01,0.02,0.03,0.04,0.05,0.06,0.07,0.08,0.09,0.1,0.2,0.3,0.4,0.5],"labels":false,"title":null,"grid":true,"gridColor":"#0072BD","gridOpacity":{"condition":{"test":"datum.value==0.1||datum.value==0.01","value":0.15},"value":0.35},"gridDash":{"condition":{"test":"datum.value==0.1||datum.value==0.01","value":[]},"value":[1,2]}}},
"color":{"field":"s","type":"nominal","scale":{"domain":["nsr = 0.1, error","nsr = 1.0, error","nsr = 0.1, loss","nsr = 1.0, loss"],"range":["#0072BD","#0072BD","#D95319","#D95319"]},"legend":{"title":null}}},
"layer":[
{"mark":{"type":"line","strokeWidth":1.2},"encoding":{"strokeDash":{"field":"s","type":"nominal","scale":{"domain":["nsr = 0.1, error","nsr = 1.0, error","nsr = 0.1, loss","nsr = 1.0, loss"],"range":[[1,0],[6,3,1.5,3],[1,0],[6,3,1.5,3]]},"legend":{"title":null}}}},
{"mark":{"type":"point","filled":false,"size":90,"strokeWidth":1.2,"opacity":1},"encoding":{"shape":{"condition":{"test":"indexof(datum.s,'error')>=0","value":"circle"},"value":"diamond"}}}
]},
{"data":{"name":"d"},"transform":[{"filter":"datum.k=='G'&&datum.m=='L2'&&indexof(datum.s,'loss')>=0"}],
"encoding":{
"x":{"field":"dx","type":"quantitative","scale":{"type":"log","domain":[0.0112,0.217],"nice":false},"axis":{"values":[0.02,0.03,0.04,0.05,0.06,0.07,0.08,0.09,0.1,0.2],"labels":false,"title":"Δ x =0.0125 ×{1,2,4,8,16}","grid":true,"gridColor":"#262626","gridOpacity":{"condition":{"test":"datum.value==0.1","value":0.15},"value":0.35},"gridDash":{"condition":{"test":"datum.value==0.1","value":[]},"value":[1,2]}}},
"y":{"field":"v","type":"quantitative","scale":{"type":"log","domain":[0.000029,0.028],"nice":false},"axis":{"orient":"right","values":[0.00003,0.00004,0.00005,0.00006,0.00007,0.00008,0.00009,0.0001,0.0002,0.0003,0.0004,0.0005,0.0006,0.0007,0.0008,0.0009,0.001,0.002,0.003,0.004,0.005,0.006,0.007,0.008,0.009,0.01,0.02],"labels":false,"title":null,"grid":false}},
"color":{"field":"s","type":"nominal","scale":{"domain":["nsr = 0.1, error","nsr = 1.0, error","nsr = 0.1, loss","nsr = 1.0, loss"],"range":["#0072BD","#0072BD","#D95319","#D95319"]},"legend":{"title":null}}},
"layer":[
{"mark":{"type":"line","strokeWidth":1.2},"encoding":{"strokeDash":{"field":"s","type":"nominal","scale":{"domain":["nsr = 0.1, error","nsr = 1.0, error","nsr = 0.1, loss","nsr = 1.0, loss"],"range":[[1,0],[6,3,1.5,3],[1,0],[6,3,1.5,3]]},"legend":{"title":null}}}},
{"mark":{"type":"point","filled":false,"size":90,"strokeWidth":1.2,"opacity":1},"encoding":{"shape":{"condition":{"test":"indexof(datum.s,'error')>=0","value":"circle"},"value":"diamond"}}}
]},
{"data":{"name":"ell"},"transform":[{"filter":"datum.k=='G'&&datum.m=='L2'"}],
"mark":{"type":"line","interpolate":"cardinal-closed","color":"#FF0000","strokeWidth":3},
"encoding":{
"x":{"field":"dx","type":"quantitative","scale":{"type":"log","domain":[0.0112,0.217],"nice":false},"axis":{"values":[0.02,0.03,0.04,0.05,0.06,0.07,0.08,0.09,0.1,0.2],"labels":false,"title":"Δ x =0.0125 ×{1,2,4,8,16}","grid":true,"gridColor":"#262626","gridOpacity":{"condition":{"test":"datum.value==0.1","value":0.15},"value":0.35},"gridDash":{"condition":{"test":"datum.value==0.1","value":[]},"value":[1,2]}}},
"y":{"field":"v","type":"quantitative","scale":{"type":"log","domain":[0.0037,0.5],"nice":false},"axis":null},
"order":{"field":"i","type":"quantitative"}}}
],
"resolve":{"scale":{"y":"independent"}}},

{"width":188,"height":161,
"layer":[
{"data":{"name":"d"},"transform":[{"filter":"datum.k=='G'&&datum.m=='RKHS'&&indexof(datum.s,'error')>=0"}],
"encoding":{
"x":{"field":"dx","type":"quantitative","scale":{"type":"log","domain":[0.0112,0.217],"nice":false},"axis":{"values":[0.02,0.03,0.04,0.05,0.06,0.07,0.08,0.09,0.1,0.2],"labels":false,"title":"Δ x =0.0125 ×{1,2,4,8,16}","grid":true,"gridColor":"#262626","gridOpacity":{"condition":{"test":"datum.value==0.1","value":0.15},"value":0.35},"gridDash":{"condition":{"test":"datum.value==0.1","value":[]},"value":[1,2]}}},
"y":{"field":"v","type":"quantitative","scale":{"type":"log","domain":[0.0037,0.5],"nice":false},"axis":{"orient":"left","values":[0.004,0.005,0.006,0.007,0.008,0.009,0.01,0.02,0.03,0.04,0.05,0.06,0.07,0.08,0.09,0.1,0.2,0.3,0.4,0.5],"labels":false,"title":null,"grid":true,"gridColor":"#0072BD","gridOpacity":{"condition":{"test":"datum.value==0.1||datum.value==0.01","value":0.15},"value":0.35},"gridDash":{"condition":{"test":"datum.value==0.1||datum.value==0.01","value":[]},"value":[1,2]}}},
"color":{"field":"s","type":"nominal","scale":{"domain":["nsr = 0.1, error","nsr = 1.0, error","nsr = 0.1, loss","nsr = 1.0, loss"],"range":["#0072BD","#0072BD","#D95319","#D95319"]},"legend":{"title":null}}},
"layer":[
{"mark":{"type":"line","strokeWidth":1.2},"encoding":{"strokeDash":{"field":"s","type":"nominal","scale":{"domain":["nsr = 0.1, error","nsr = 1.0, error","nsr = 0.1, loss","nsr = 1.0, loss"],"range":[[1,0],[6,3,1.5,3],[1,0],[6,3,1.5,3]]},"legend":{"title":null}}}},
{"mark":{"type":"point","filled":false,"size":90,"strokeWidth":1.2,"opacity":1},"encoding":{"shape":{"condition":{"test":"indexof(datum.s,'error')>=0","value":"circle"},"value":"diamond"}}}
]},
{"data":{"name":"d"},"transform":[{"filter":"datum.k=='G'&&datum.m=='RKHS'&&indexof(datum.s,'loss')>=0"}],
"encoding":{
"x":{"field":"dx","type":"quantitative","scale":{"type":"log","domain":[0.0112,0.217],"nice":false},"axis":{"values":[0.02,0.03,0.04,0.05,0.06,0.07,0.08,0.09,0.1,0.2],"labels":false,"title":"Δ x =0.0125 ×{1,2,4,8,16}","grid":true,"gridColor":"#262626","gridOpacity":{"condition":{"test":"datum.value==0.1","value":0.15},"value":0.35},"gridDash":{"condition":{"test":"datum.value==0.1","value":[]},"value":[1,2]}}},
"y":{"field":"v","type":"quantitative","scale":{"type":"log","domain":[0.000029,0.028],"nice":false},"axis":{"orient":"right","values":[0.00003,0.00004,0.00005,0.00006,0.00007,0.00008,0.00009,0.0001,0.0002,0.0003,0.0004,0.0005,0.0006,0.0007,0.0008,0.0009,0.001,0.002,0.003,0.004,0.005,0.006,0.007,0.008,0.009,0.01,0.02],"labelExpr":"datum.value==0.0001?'10⁻⁴':datum.value==0.001?'10⁻³':datum.value==0.01?'10⁻²':''","title":"Loss value","grid":false}},
"color":{"field":"s","type":"nominal","scale":{"domain":["nsr = 0.1, error","nsr = 1.0, error","nsr = 0.1, loss","nsr = 1.0, loss"],"range":["#0072BD","#0072BD","#D95319","#D95319"]},"legend":{"title":null}}},
"layer":[
{"mark":{"type":"line","strokeWidth":1.2},"encoding":{"strokeDash":{"field":"s","type":"nominal","scale":{"domain":["nsr = 0.1, error","nsr = 1.0, error","nsr = 0.1, loss","nsr = 1.0, loss"],"range":[[1,0],[6,3,1.5,3],[1,0],[6,3,1.5,3]]},"legend":{"title":null}}}},
{"mark":{"type":"point","filled":false,"size":90,"strokeWidth":1.2,"opacity":1},"encoding":{"shape":{"condition":{"test":"indexof(datum.s,'error')>=0","value":"circle"},"value":"diamond"}}}
]}
],
"resolve":{"scale":{"y":"independent"}}}
],
"spacing":14.5,"bounds":"flush",
"title":{"text":"Gaussian kernel","orient":"left","anchor":"middle","fontSize":16,"fontWeight":"bold","color":"#000000","offset":-4}}
],
"config":{
"font":"Liberation Sans",
"view":{"stroke":null},
"title":{"fontSize":14,"fontWeight":"bold","color":"#000000","offset":-5},
"axis":{"labelFont":"Liberation Sans","titleFont":"Liberation Sans","labelFontSize":17,"titleFontSize":16,"titleFontWeight":"normal","labelOverlap":false,"tickSize":-4,"tickWidth":0.8,"domainWidth":1,"gridWidth":0.8,"labelPadding":9,"titlePadding":7},
"axisLeft":{"domainColor":"#0072BD","tickColor":"#0072BD","labelColor":"#0072BD","titleColor":"#0072BD","titlePadding":3},
"axisRight":{"domainColor":"#D95319","tickColor":"#D95319","labelColor":"#D95319","titleColor":"#D95319","tickSize":-3,"labelPadding":8,"titlePadding":3},
"axisBottom":{"domainColor":"#262626","tickColor":"#262626","titleColor":"#262626","titleFontSize":16.5,"titlePadding":6},
"legend":{"orient":"none","legendX":31,"legendY":352,"direction":"horizontal","padding":0,"labelFont":"Liberation Sans","labelColor":"#262626","labelFontSize":15.5,"labelOffset":6,"symbolSize":484,"symbolStrokeWidth":1.2,"symbolFillColor":"transparent","columnPadding":14}
}
}
